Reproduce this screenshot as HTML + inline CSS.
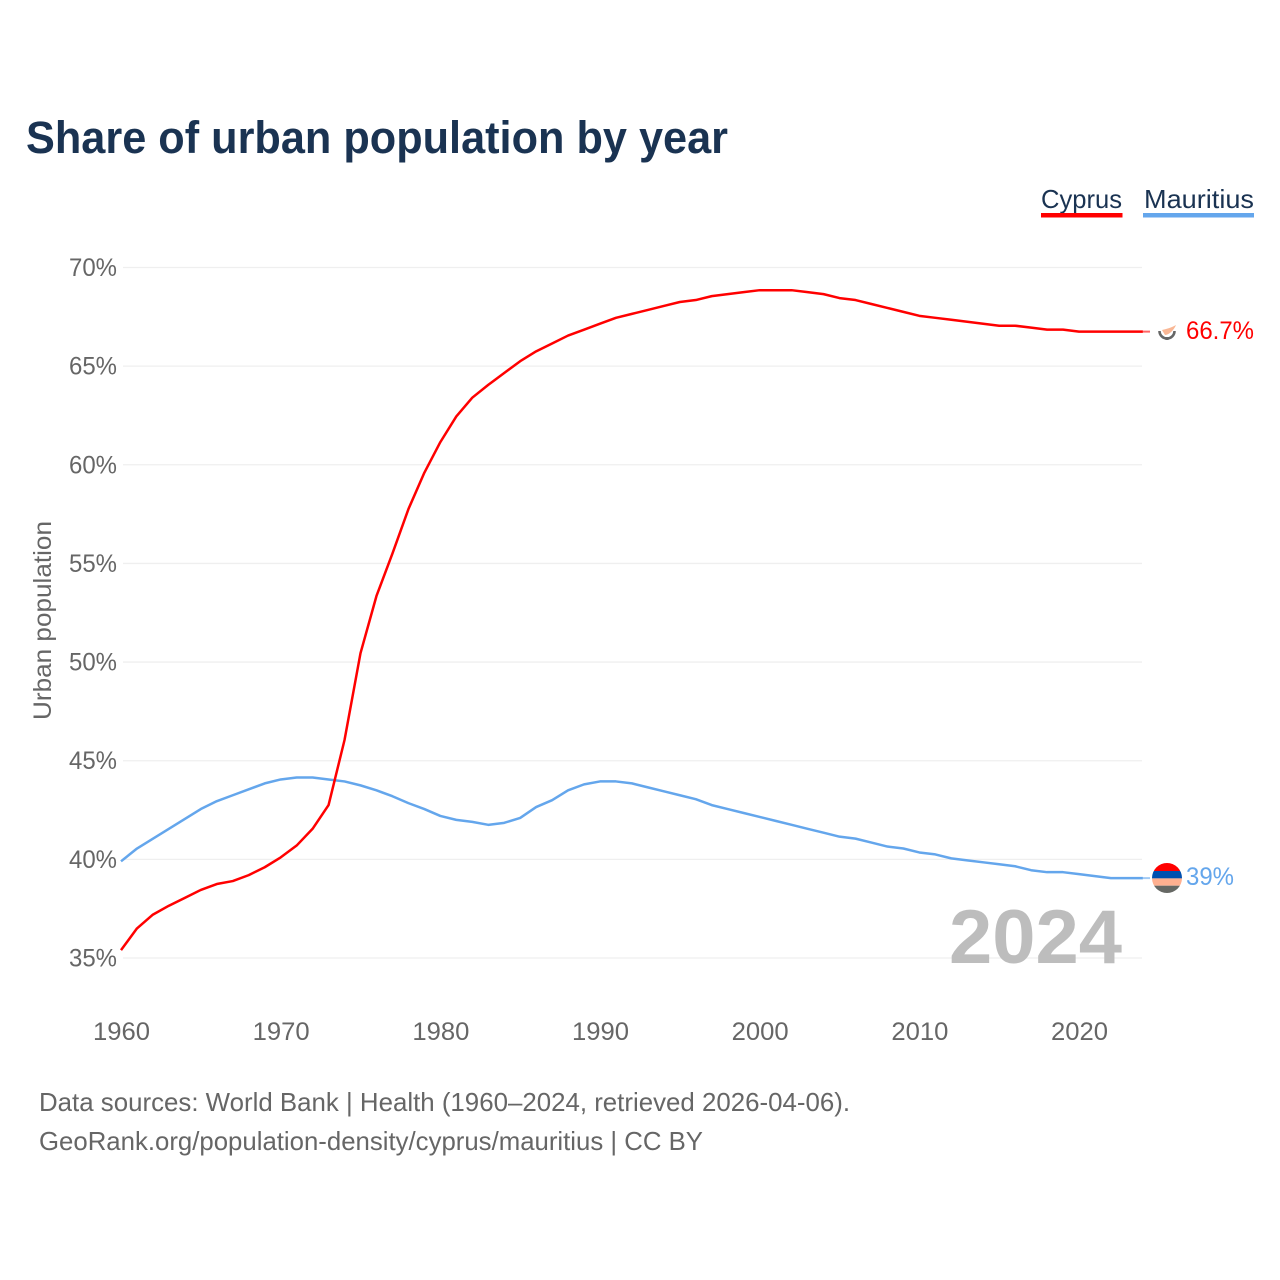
<!DOCTYPE html>
<html lang="en">
<head>
<meta charset="utf-8">
<title>Share of urban population by year</title>
<style>
html,body{margin:0;padding:0;background:#fff;width:1280px;height:1280px;overflow:hidden}
svg{display:block;font-family:"Liberation Sans",sans-serif}
</style>
</head>
<body>
<svg id="chart" width="1280" height="1280" viewBox="0 0 1280 1280" xmlns="http://www.w3.org/2000/svg">
<text x="26" y="153" font-size="45" font-weight="700" fill="#1a3352" textLength="702" lengthAdjust="spacingAndGlyphs">Share of urban population by year</text>
<g>
<g>
<text x="1041" y="208" font-size="26" fill="#1a3352" textLength="81" lengthAdjust="spacingAndGlyphs">Cyprus</text>
<rect x="1041" y="213" width="81.5" height="4.5" fill="#ff0000"/>
</g>
<g>
<text x="1144" y="208" font-size="26" fill="#1a3352" textLength="110" lengthAdjust="spacingAndGlyphs">Mauritius</text>
<rect x="1143" y="213" width="111" height="4.5" fill="#64a6ec"/>
</g>
</g>
<g id="grid"></g>
<g id="yticks"></g>
<g id="xticks"></g>
<text transform="translate(51,720) rotate(-90)" font-size="25" fill="#666" textLength="199" lengthAdjust="spacingAndGlyphs">Urban population</text>
<text x="949" y="963" font-size="76" font-weight="700" fill="#bdbdbd" textLength="173" lengthAdjust="spacingAndGlyphs">2024</text>
<g id="series"></g>
<g>
<circle cx="1167" cy="331" r="9" fill="#fff"/>
<path d="M1162 330 C1166 329 1171 328 1176 325 C1174 330 1169 335 1165 335 Z" fill="#f9b795"/>
<path d="M1159.5 331 A7.5 7.5 0 0 0 1174.5 331" fill="none" stroke="#666" stroke-width="2.6"/>
<rect x="1165.5" y="337" width="3" height="3" fill="#666"/>
</g>
<g>
<clipPath id="flag-clip"><circle cx="1167" cy="878" r="15"/></clipPath>
<g clip-path="url(#flag-clip)">
<rect x="1152" y="863" width="30" height="8" fill="#ff0000"/>
<rect x="1152" y="871" width="30" height="7.4" fill="#0050b0"/>
<rect x="1152" y="878.4" width="30" height="7.3" fill="#ffb090"/>
<rect x="1152" y="885.7" width="30" height="7.3" fill="#666864"/>
</g>
</g>
<text x="1186" y="339" font-size="25" fill="#ff0000" textLength="68" lengthAdjust="spacingAndGlyphs">66.7%</text>
<text x="1186" y="885" font-size="25" fill="#64a6ec" textLength="48" lengthAdjust="spacingAndGlyphs">39%</text>
<text x="39" y="1111" font-size="26" fill="#666" textLength="811" lengthAdjust="spacingAndGlyphs">Data sources: World Bank | Health (1960–2024, retrieved 2026-04-06).</text>
<text x="39" y="1150" font-size="26" fill="#666" textLength="664" lengthAdjust="spacingAndGlyphs">GeoRank.org/population-density/cyprus/mauritius | CC BY</text>
</svg>
<script>
const startYear = 1960;
const yTickValues = [35, 40, 45, 50, 55, 60, 65, 70];
const xTickValues = [1960, 1970, 1980, 1990, 2000, 2010, 2020];
const cyprusValues = [35.4,36.5,37.2,37.65,38.05,38.45,38.75,38.9,39.2,39.6,40.1,40.7,41.55,42.75,46.05,50.45,53.35,55.5,57.75,59.6,61.15,62.45,63.4,64.05,64.65,65.25,65.75,66.15,66.55,66.85,67.15,67.45,67.65,67.85,68.05,68.25,68.35,68.55,68.65,68.75,68.85,68.85,68.85,68.75,68.65,68.45,68.35,68.15,67.95,67.75,67.55,67.45,67.35,67.25,67.15,67.05,67.05,66.95,66.85,66.85,66.75,66.75,66.75,66.75,66.75];
const mauritiusValues = [39.9,40.55,41.05,41.55,42.05,42.55,42.95,43.25,43.55,43.85,44.05,44.15,44.15,44.05,43.95,43.75,43.5,43.2,42.85,42.55,42.2,42.0,41.9,41.75,41.85,42.1,42.65,43.0,43.5,43.8,43.95,43.95,43.85,43.65,43.45,43.25,43.05,42.75,42.55,42.35,42.15,41.95,41.75,41.55,41.35,41.15,41.05,40.85,40.65,40.55,40.35,40.25,40.05,39.95,39.85,39.75,39.65,39.45,39.35,39.35,39.25,39.15,39.05,39.05,39.05];
const SVGNS = 'http://www.w3.org/2000/svg';
function xScale(year){ return 121 + (year - 1960) * (1079 - 121) / 60; }
function yScale(v){ return 958 - (v - 35) * (958 - 267.5) / 35; }
const gridG = document.getElementById('grid');
const yG = document.getElementById('yticks');
const xG = document.getElementById('xticks');
const seriesG = document.getElementById('series');
yTickValues.forEach(function(v){
  const line = document.createElementNS(SVGNS, 'line');
  
  
  line.setAttribute('x1', 123);
  line.setAttribute('x2', 1142);
  line.setAttribute('y1', yScale(v));
  line.setAttribute('y2', yScale(v));
  line.setAttribute('stroke', '#efefef');
  line.setAttribute('stroke-width', 1.3);
  gridG.appendChild(line);
  const t = document.createElementNS(SVGNS, 'text');
  
  
  t.setAttribute('x', 117);
  t.setAttribute('y', yScale(v) + 8.5);
  t.setAttribute('text-anchor', 'end');
  t.setAttribute('font-size', 25);
  t.setAttribute('fill', '#666');
  t.setAttribute('textLength', 48);
  t.setAttribute('lengthAdjust', 'spacingAndGlyphs');
  t.textContent = v + '%';
  yG.appendChild(t);
});
xTickValues.forEach(function(y){
  const t = document.createElementNS(SVGNS, 'text');
  
  
  t.setAttribute('x', xScale(y) + 0.5);
  t.setAttribute('y', 1040);
  t.setAttribute('text-anchor', 'middle');
  t.setAttribute('font-size', 25);
  t.setAttribute('fill', '#666');
  t.setAttribute('textLength', 57);
  t.setAttribute('lengthAdjust', 'spacingAndGlyphs');
  t.textContent = y;
  xG.appendChild(t);
});
function drawSeries(values, color, name){
  const d = values.map(function(v, i){
    return (i ? 'L' : 'M') + xScale(startYear + i).toFixed(2) + ' ' + yScale(v).toFixed(2);
  }).join(' ');
  const p = document.createElementNS(SVGNS, 'path');
  
  
  p.setAttribute('d', d);
  p.setAttribute('fill', 'none');
  p.setAttribute('stroke', color);
  p.setAttribute('stroke-width', 2.5);
  p.setAttribute('stroke-linejoin', 'round');
  seriesG.appendChild(p);
  const last = values[values.length - 1];
  const tail = document.createElementNS(SVGNS, 'line');
  
  
  tail.setAttribute('x1', xScale(startYear + values.length - 1));
  tail.setAttribute('x2', 1150);
  tail.setAttribute('y1', yScale(last));
  tail.setAttribute('y2', yScale(last));
  tail.setAttribute('stroke', color);
  tail.setAttribute('stroke-opacity', 0.6);
  tail.setAttribute('stroke-width', 2);
  seriesG.appendChild(tail);
}
drawSeries(mauritiusValues, '#64a6ec', 'mauritius-line');
drawSeries(cyprusValues, '#ff0000', 'cyprus-line');
</script>
</body>
</html>
